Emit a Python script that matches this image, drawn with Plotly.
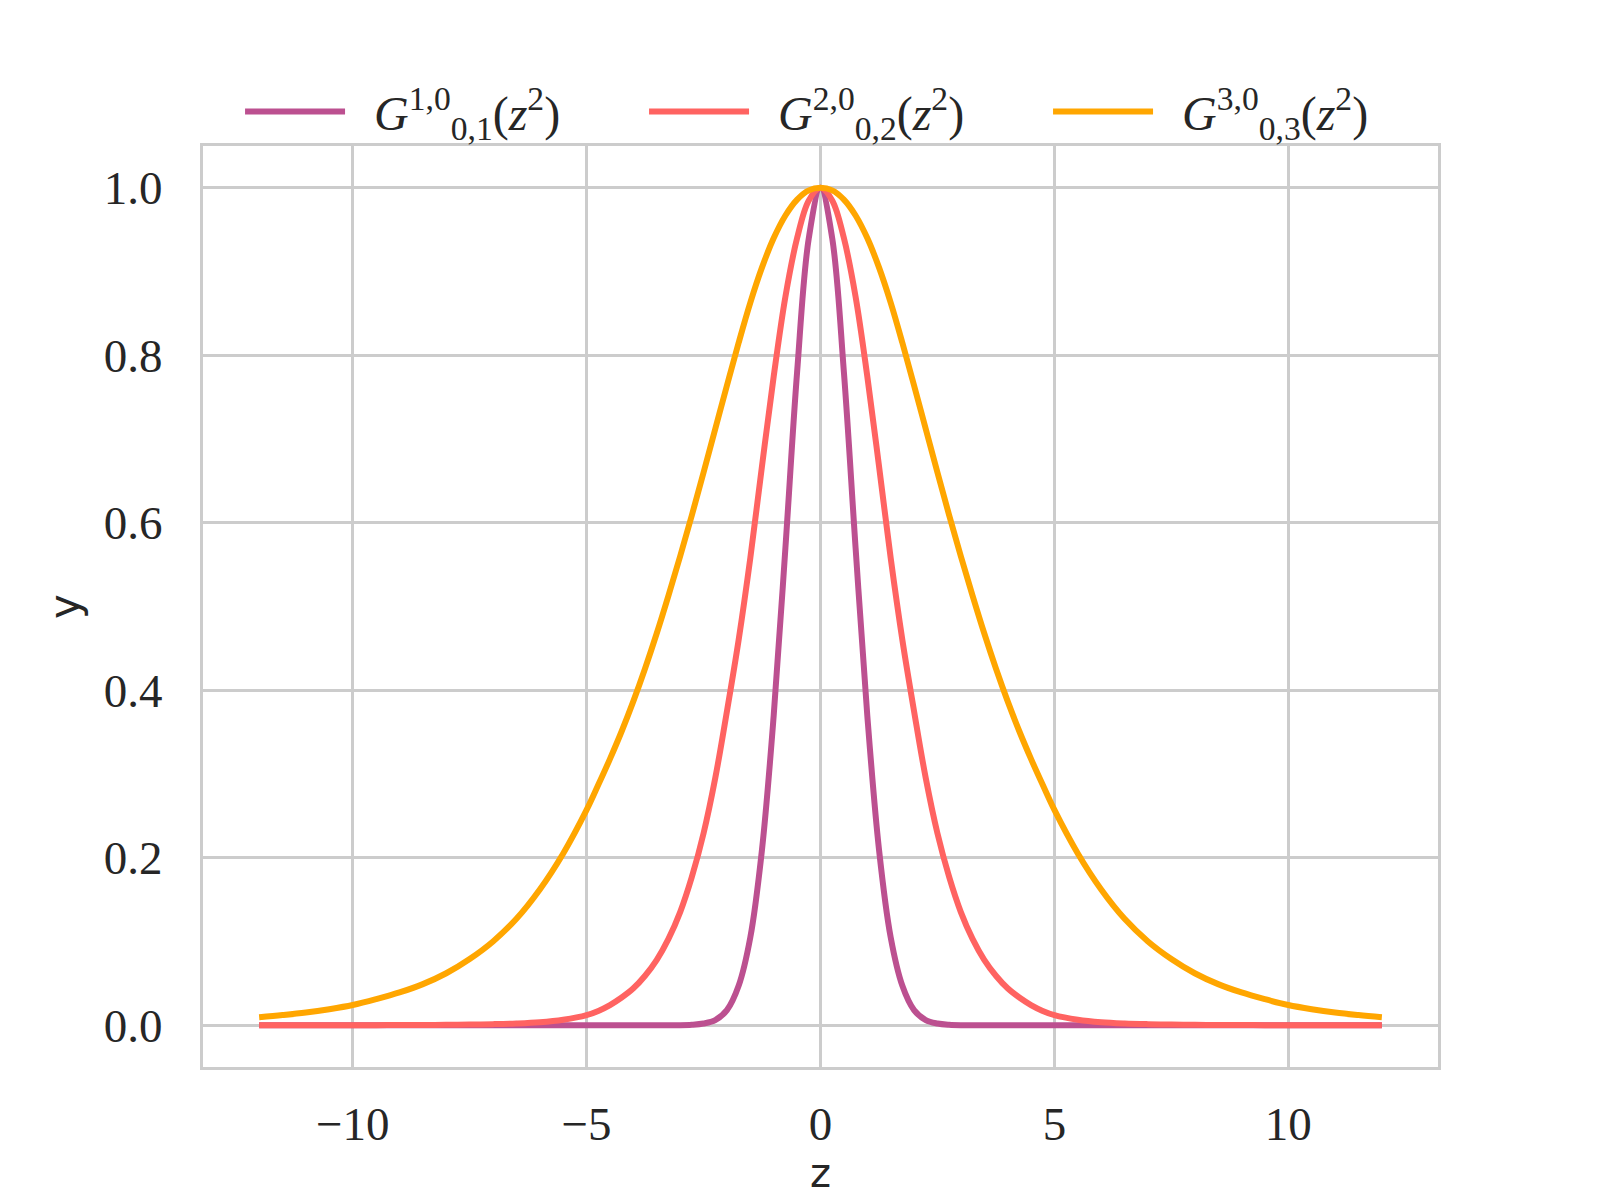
import plotly.graph_objects as go

# z sample positions
z_values = [-12, -11.5, -11, -10.5, -10, -9.5, -9, -8.5, -8, -7.5, -7, -6.5, -6, -5.5,
            -5, -4.75, -4.5, -4.25, -4, -3.75, -3.5, -3.25, -3, -2.75, -2.5, -2.25,
            -2, -1.75, -1.5, -1.25, -1, -0.75, -0.5, -0.25,
            0,
            0.25, 0.5, 0.75, 1, 1.25, 1.5, 1.75, 2, 2.25, 2.5, 2.75, 3, 3.25, 3.5, 3.75,
            4, 4.25, 4.5, 4.75, 5,
            5.5, 6, 6.5, 7, 7.5, 8, 8.5, 9, 9.5, 10, 10.5, 11, 11.5, 12]

# G^{1,0}_{0,1}(z^2)
g10_01 = [0, 0, 0, 0, 0, 0, 0, 0, 0, 0, 0, 0, 0, 0,
          0, 0, 0, 0, 0, 0, 0, 0, 0, 0.0005, 0.002, 0.006,
          0.018, 0.047, 0.105, 0.21, 0.37, 0.57, 0.78, 0.94,
          1.0,
          0.94, 0.78, 0.57, 0.37, 0.21, 0.105, 0.047, 0.018, 0.006, 0.002, 0.0005, 0, 0, 0, 0,
          0, 0, 0, 0, 0,
          0, 0, 0, 0, 0, 0, 0, 0, 0, 0, 0, 0, 0, 0]

# G^{2,0}_{0,2}(z^2)
g20_02 = [0, 0, 0, 0, 0, 0, 0.0001, 0.0002, 0.0004, 0.0007, 0.0012, 0.002, 0.0035, 0.0065,
          0.012, 0.017, 0.024, 0.033, 0.044, 0.059, 0.078, 0.103, 0.135, 0.177, 0.229, 0.295,
          0.375, 0.46, 0.558, 0.668, 0.775, 0.87, 0.94, 0.985,
          1.0,
          0.985, 0.94, 0.87, 0.775, 0.668, 0.558, 0.46, 0.375, 0.295, 0.229, 0.177, 0.135, 0.103, 0.078, 0.059,
          0.044, 0.033, 0.024, 0.017, 0.012,
          0.0065, 0.0035, 0.002, 0.0012, 0.0007, 0.0004, 0.0002, 0.0001, 0, 0, 0, 0, 0, 0]

# G^{3,0}_{0,3}(z^2)
g30_03 = [0.0095, 0.012, 0.015, 0.019, 0.024, 0.031, 0.039, 0.049, 0.062, 0.079, 0.100, 0.127, 0.162, 0.205,
          0.257, 0.287, 0.318, 0.351, 0.387, 0.426, 0.468, 0.513, 0.560, 0.609, 0.660, 0.712,
          0.764, 0.815, 0.863, 0.905, 0.940, 0.967, 0.986, 0.997,
          1.0,
          0.997, 0.986, 0.967, 0.940, 0.905, 0.863, 0.815, 0.764, 0.712, 0.660, 0.609, 0.560, 0.513, 0.468, 0.426,
          0.387, 0.351, 0.318, 0.287, 0.257,
          0.205, 0.162, 0.127, 0.100, 0.079, 0.062, 0.049, 0.039, 0.031, 0.024, 0.019, 0.015, 0.012, 0.0095]

series_names = [
    "&nbsp;&nbsp;<i>G</i><sup>1,0</sup><sub>0,1</sub>(<i>z</i><sup>2</sup>)",
    "&nbsp;&nbsp;<i>G</i><sup>2,0</sup><sub>0,2</sub>(<i>z</i><sup>2</sup>)",
    "&nbsp;&nbsp;<i>G</i><sup>3,0</sup><sub>0,3</sub>(<i>z</i><sup>2</sup>)",
]
series_colors = ["#bc5090", "#ff6361", "#ffa600"]

x_tick_vals = [-10, -5, 0, 5, 10]
x_tick_text = ["\u221210", "\u22125", "0", "5", "10"]
y_tick_vals = [0.0, 0.2, 0.4, 0.6, 0.8, 1.0]
y_tick_text = ["0.0", "0.2", "0.4", "0.6", "0.8", "1.0"]

SERIF = "Liberation Serif, DejaVu Serif, serif"
SANS = "DejaVu Sans, sans-serif"
TEXT = "#262626"
GRID = "#cccccc"

fig = go.Figure()
for name, ys, col in zip(series_names, [g10_01, g20_02, g30_03], series_colors):
    fig.add_trace(go.Scatter(
        x=z_values, y=ys, mode="lines", name=name,
        line=dict(color=col, width=6, shape="spline", smoothing=1.0),
    ))

fig.update_layout(
    width=1600, height=1200,
    margin=dict(l=195, r=170, t=138, b=141),
    paper_bgcolor="white", plot_bgcolor="white",
    showlegend=True,
    legend=dict(
        orientation="h", x=0.03, xanchor="left", y=0.996, yanchor="bottom",
        font=dict(family=SERIF, size=48, color=TEXT),
        entrywidth=289, entrywidthmode="pixels", itemwidth=100,
        bgcolor="rgba(0,0,0,0)",
    ),
    xaxis=dict(
        range=[-13.2, 13.2], tickvals=x_tick_vals, ticktext=x_tick_text,
        showgrid=True, gridcolor=GRID, gridwidth=2.5, zeroline=False,
        showline=True, mirror=True, linecolor=GRID, linewidth=3,
        ticks="", ticklabelstandoff=14, automargin=False,
        tickfont=dict(family=SERIF, size=47, color=TEXT),
        title=dict(text="z", font=dict(family=SANS, size=40, color=TEXT), standoff=9),
    ),
    yaxis=dict(
        range=[-0.05, 1.05], tickvals=y_tick_vals, ticktext=y_tick_text,
        showgrid=True, gridcolor=GRID, gridwidth=2.5, zeroline=False,
        showline=True, mirror=True, linecolor=GRID, linewidth=3,
        ticks="", ticklabelstandoff=28, automargin=False,
        tickfont=dict(family=SERIF, size=47, color=TEXT),
        title=dict(text="y", font=dict(family=SANS, size=42, color=TEXT), standoff=12),
    ),
)

fig.write_html("out.html")
